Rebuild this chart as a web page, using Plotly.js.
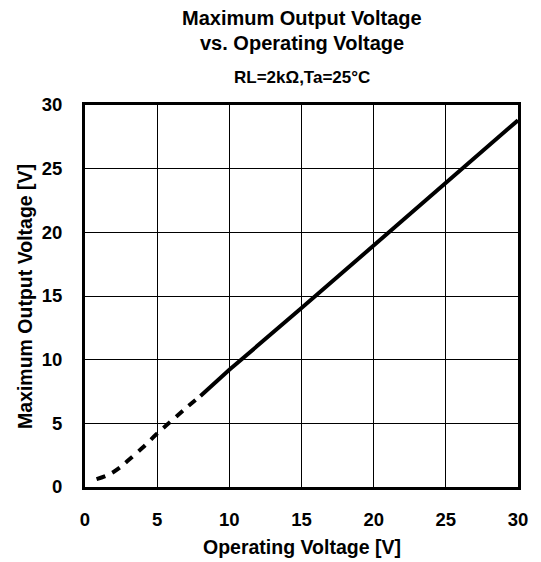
<!DOCTYPE html>
<html>
<head>
<meta charset="utf-8">
<script src="https://cdn.plot.ly/plotly-3.0.1.min.js"></script>
<style>html,body{margin:0;padding:0;background:#fff;}#chart{width:541px;height:562px;}</style>
</head>
<body>
<div id="chart"></div>
<script>
// Dashed (low-voltage) portion
var vccLow = [0.8, 1.5, 2.0, 2.5, 3.0, 4.0, 5.0, 6.0, 7.0, 8.0];
var voutLow = [0.62, 0.9, 1.2, 1.6, 2.1, 3.1, 4.2, 5.2, 6.2, 7.15];
// Solid portion
var vccHigh = [8.0, 10.0, 15.0, 20.0, 25.0, 30.0];
var voutHigh = [7.15, 9.2, 14.05, 18.95, 23.9, 28.8];
var xTicks = [0, 5, 10, 15, 20, 25, 30];
var yTicks = [0, 5, 10, 15, 20, 25, 30];
var titleLines = ['Maximum Output Voltage', 'vs. Operating Voltage'];
var subtitle = 'RL=2kΩ,Ta=25°C';
var xTitle = 'Operating Voltage [V]';
var yTitle = 'Maximum Output Voltage [V]';

var font = "Liberation Sans, Arial, sans-serif";
var traces = [
  {x: vccLow, y: voutLow, mode: 'lines', line: {color: '#000', width: 4, dash: '9px,8px', shape: 'spline'}, hoverinfo: 'none'},
  {x: vccHigh, y: voutHigh, mode: 'lines', line: {color: '#000', width: 4}, hoverinfo: 'none'}
];
var axisCommon = {
  range: [0, 30], ticks: '', showgrid: true, gridcolor: '#000', gridwidth: 1,
  zeroline: false, showline: true, linecolor: '#000', linewidth: 3, mirror: true,
  tickfont: {family: font, size: 18.5, color: '#000', weight: 'bold'}
};
function ann(text, x, y, size, angle) {
  return {text: '<b>' + text + '</b>', xref: 'paper', yref: 'paper', x: x, y: y, xanchor: 'center', yanchor: 'middle',
    showarrow: false, textangle: angle || 0, font: {family: font, size: size, color: '#000'}};
}
var layout = {
  width: 541, height: 562,
  margin: {l: 85, r: 23, t: 105, b: 75},
  paper_bgcolor: '#fff', plot_bgcolor: '#fff',
  showlegend: false,
  annotations: [
    ann(titleLines[0], 0.5, 1.2277, 20),
    ann(titleLines[1], 0.5, 1.1623, 20),
    ann(subtitle, 0.5, 1.0707, 17),
    ann(xTitle, 0.5, -0.157, 19.5),
    ann(yTitle, -0.1386, 0.5, 19.5, -90)
  ],
  xaxis: Object.assign({}, axisCommon, {tickvals: xTicks, ticklabelstandoff: 14}),
  yaxis: Object.assign({}, axisCommon, {tickvals: yTicks, ticklabelstandoff: 16})
};
Plotly.newPlot('chart', traces, layout, {staticPlot: true, displayModeBar: false});
</script>
</body>
</html>
